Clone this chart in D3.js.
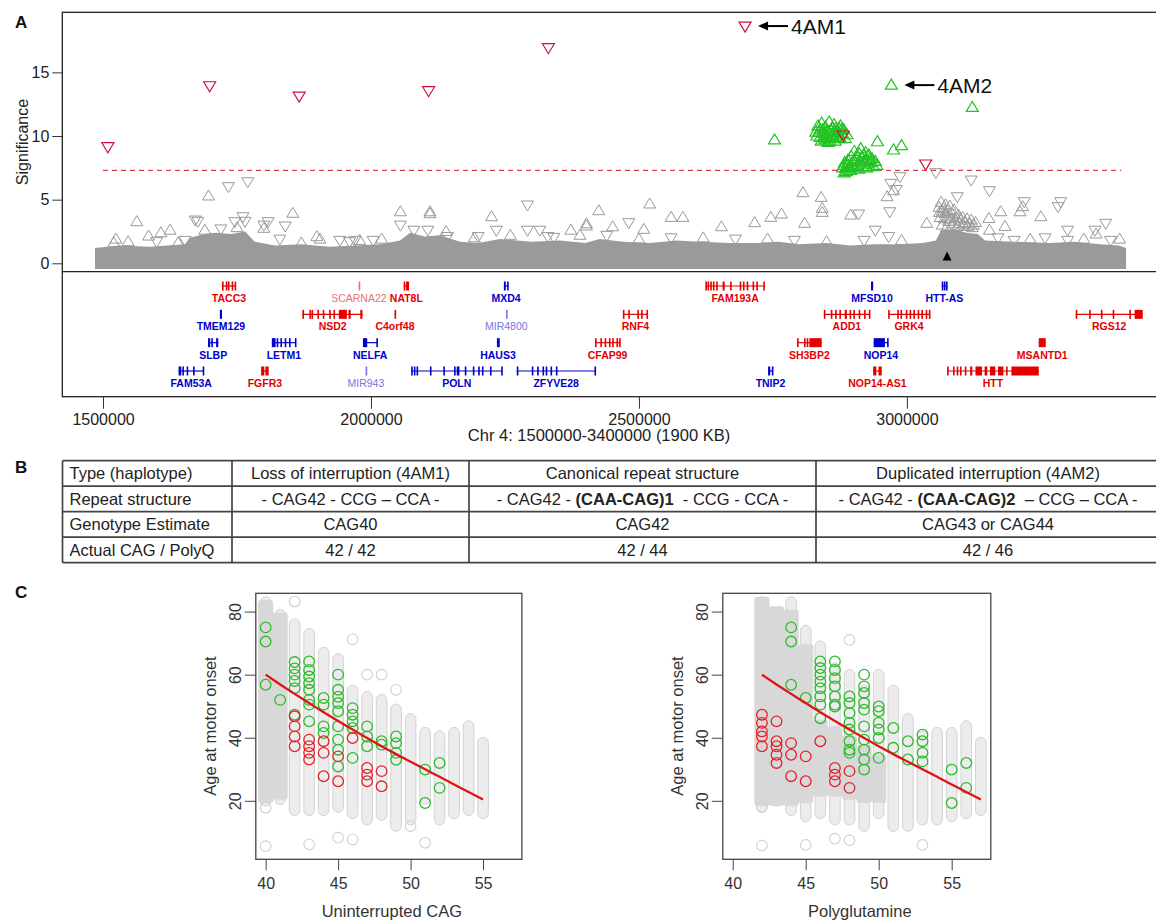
<!DOCTYPE html>
<html>
<head>
<meta charset="utf-8">
<script src="https://cdn.jsdelivr.net/npm/d3@7"></script>
<style>
  body { margin: 0; background: #fff; }
  svg { display: block; }
  text { font-family: "Liberation Sans", Arial, sans-serif; }
</style>
</head>
<body>
<svg id="fig" width="1156" height="920"></svg>
<script>
// ---------- panel A data (positions in kb, significance = -log10 p) ----------
const ticksA = [1500000, 2000000, 2500000, 3000000];
const sigTicks = [0, 5, 10, 15];
const threshold = 7.3;

// top edge of the dense mass of grey markers
const bandTop = [
  [1485, 1.2], [1530, 1.4], [1587, 1.3], [1653, 1.5], [1662, 2.0], [1690, 2.3], [1709, 2.4],
  [1740, 2.3], [1765, 2.5], [1783, 1.7], [1821, 1.4], [1870, 1.5], [1923, 1.3], [1970, 1.4],
  [2017, 1.5], [2054, 1.8], [2073, 2.4], [2100, 2.1], [2129, 2.2], [2166, 1.7], [2200, 1.6],
  [2241, 1.9], [2300, 1.7], [2352, 1.8], [2400, 1.6], [2427, 1.9], [2470, 1.7], [2520, 1.6],
  [2570, 1.8], [2614, 1.7], [2670, 1.6], [2726, 1.6], [2760, 1.7], [2800, 1.5], [2850, 1.6],
  [2894, 1.4], [2940, 1.5], [2987, 1.5], [3030, 1.6], [3054, 1.8], [3064, 2.6], [3090, 2.7],
  [3110, 2.4], [3132, 2.3], [3146, 1.8], [3200, 1.7], [3267, 1.6],
  [3310, 1.7], [3360, 1.5], [3395, 1.4], [3409, 1.2]
];

// [kb, significance, direction]
const greyTri = [
  [1563, 3.27, "u"], [1697, 5.29, "u"], [1734, 6.02, "d"], [1770, 6.41, "d"], [1672, 3.4, "d"],
  [1677, 3.3, "d"], [1625, 2.6, "u"], [1608, 2.4, "u"], [1585, 2.14, "u"], [1761, 3.66, "d"],
  [1746, 3.27, "d"], [1765, 3.3, "d"], [1808, 3.27, "d"], [1800, 3.0, "d"], [1840, 2.93, "d"],
  [1854, 3.93, "u"], [1800, 2.75, "u"], [1899, 2.09, "u"], [2055, 4.05, "u"], [2055, 3.0, "d"],
  [2110, 4.05, "u"], [2110, 3.9, "u"], [2106, 2.6, "d"], [2143, 2.1, "d"], [2193, 2.0, "u"],
  [2225, 3.66, "u"], [2234, 2.6, "d"], [2292, 4.58, "d"], [2292, 2.6, "d"], [2315, 2.6, "d"],
  [2341, 2.04, "d"], [2373, 2.6, "u"], [2402, 2.93, "u"], [2425, 4.13, "u"], [1979, 1.8, "u"],
  [2004, 1.8, "d"], [1524, 1.9, "u"], [1547, 1.7, "u"], [1653, 1.8, "d"], [1905, 1.9, "u"],
  [1942, 1.8, "d"], [1970, 1.8, "d"],
  [2520, 4.66, "u"], [2402, 3.1, "u"], [2481, 3.19, "d"], [2451, 2.87, "u"], [2509, 2.67, "u"],
  [2560, 3.61, "u"], [2582, 3.61, "u"], [2654, 2.87, "u"], [2716, 3.19, "u"], [2746, 3.61, "u"],
  [2766, 3.87, "u"], [2806, 5.55, "u"], [2840, 5.18, "u"], [2842, 4.32, "u"], [2842, 4.0, "u"],
  [2809, 3.14, "u"], [2895, 3.79, "u"], [2910, 3.87, "d"], [2968, 4.05, "d"], [2987, 6.8, "d"],
  [2970, 6.28, "d"], [2963, 5.23, "u"], [2975, 5.7, "u"], [2980, 5.8, "d"], [3054, 7.12, "d"],
  [3037, 3.14, "u"], [3094, 5.23, "d"], [3120, 6.54, "d"], [3154, 5.7, "d"], [3219, 4.84, "d"],
  [3216, 4.45, "u"], [3211, 4.05, "u"], [3175, 4.05, "u"], [3153, 3.52, "u"], [3250, 3.66, "u"],
  [3287, 4.84, "d"], [3282, 4.45, "d"], [3371, 3.14, "d"], [3351, 2.6, "d"], [3300, 2.6, "d"],
  [3353, 2.3, "u"], [2941, 2.6, "d"], [2966, 2.1, "d"], [3200, 1.8, "d"], [3154, 2.6, "u"],
  [3183, 2.9, "u"], [3258, 2.0, "d"], [3397, 1.9, "u"],
  [1520, 1.6, "u"], [1600, 1.7, "d"], [1640, 1.6, "u"], [1690, 2.6, "u"], [1720, 2.7, "d"],
  [1750, 2.8, "u"], [1830, 1.9, "d"], [1870, 1.6, "u"], [1960, 1.7, "d"], [2020, 1.9, "u"],
  [2080, 2.6, "d"], [2140, 2.5, "u"], [2200, 2.1, "d"], [2260, 2.2, "u"], [2330, 2.1, "d"],
  [2390, 2.2, "u"], [2440, 2.2, "d"], [2500, 1.9, "u"], [2560, 2.0, "d"], [2620, 2.0, "u"],
  [2680, 1.9, "d"], [2740, 1.9, "u"], [2790, 1.8, "d"], [2850, 1.7, "u"], [2920, 1.8, "d"],
  [2990, 1.8, "u"], [3170, 2.0, "d"], [3230, 1.9, "u"], [3300, 1.8, "d"], [3330, 1.9, "u"],
  [3380, 1.8, "d"],
  [3060, 4.4, "u"], [3064, 4.8, "u"], [3068, 4.3, "u"], [3072, 4.6, "u"], [3076, 4.1, "u"],
  [3080, 4.5, "u"], [3084, 3.9, "u"], [3088, 4.2, "u"], [3092, 3.6, "u"], [3096, 3.8, "u"],
  [3100, 3.4, "u"], [3104, 3.6, "u"], [3108, 3.2, "u"], [3112, 3.5, "u"], [3116, 3.1, "u"],
  [3120, 3.4, "u"], [3124, 3.0, "u"], [3128, 3.2, "u"], [3062, 3.6, "u"], [3070, 3.5, "u"],
  [3078, 3.3, "u"], [3086, 3.1, "u"], [3094, 2.9, "u"], [3066, 3.0, "u"], [3074, 2.8, "u"],
  [3061, 4.0, "u"], [3066, 4.1, "u"], [3071, 3.9, "u"], [3077, 3.7, "u"], [3082, 3.5, "u"],
  [3090, 3.3, "u"], [3098, 3.1, "u"], [3106, 3.0, "u"], [3114, 2.9, "u"], [3122, 2.8, "u"]
];

const greenTri = [
  [2971, 14.0], [3122, 12.25], [2753, 9.69], [2945, 9.55], [2975, 8.9], [2990, 9.24],
  [2830, 10.3], [2834, 10.8], [2838, 10.5], [2841, 11.0], [2845, 10.2], [2848, 10.7], [2852, 10.4],
  [2855, 11.1], [2858, 10.0], [2861, 10.6], [2864, 10.9], [2867, 10.3], [2870, 10.0], [2873, 10.6],
  [2876, 10.8], [2879, 10.2], [2882, 10.5], [2885, 9.8], [2888, 10.1], [2846, 9.7], [2856, 9.6],
  [2866, 9.6], [2876, 9.8], [2838, 9.9], [2850, 10.0], [2862, 10.1],
  [2832, 10.0], [2836, 10.3], [2843, 10.5], [2847, 10.0], [2851, 9.8], [2854, 10.3], [2859, 10.4],
  [2863, 9.9], [2868, 10.6], [2871, 10.3], [2874, 9.9], [2878, 10.5], [2840, 9.6], [2853, 9.5],
  [2880, 7.5], [2884, 7.9], [2887, 7.2], [2890, 8.1], [2893, 7.6], [2896, 8.4], [2899, 7.9],
  [2902, 8.8], [2905, 8.2], [2908, 7.7], [2911, 8.6], [2914, 9.0], [2917, 8.3], [2920, 7.8],
  [2923, 8.7], [2926, 8.1], [2929, 8.5], [2932, 7.9], [2935, 8.2], [2938, 7.6], [2941, 8.0],
  [2944, 7.7], [2883, 7.1], [2895, 7.3], [2910, 7.4], [2925, 7.5],
  [2882, 7.7], [2886, 7.5], [2889, 7.8], [2892, 7.3], [2898, 7.6], [2901, 8.1], [2904, 7.5],
  [2907, 8.4], [2913, 8.0], [2916, 7.6], [2919, 8.5], [2922, 8.0], [2928, 7.8], [2931, 8.2]
];

const redTri = [
  [1509, 9.16], [1699, 13.95], [1866, 13.14], [2107.5, 13.56], [2331, 16.94],
  [2698, 18.64], [2881, 10.08], [3035, 7.8]
];

const cagMarker = [3075, 0.5];
const callouts = [["4AM1", 2698, 18.64], ["4AM2", 2971, 14.0]];

// genes: [name, row, type, start kb, end kb, exons]
const genes = [
  ["TACC3", 1, "r", 1722, 1748, [[1722, 1724.5], [1729, 1731], [1733, 1735], [1740, 1742], [1745.5, 1748]]],
  ["SCARNA22", 1, "lr", 1977, 1978, [[1977, 1978]]],
  ["NAT8L", 1, "r", 2061, 2071, [[2061, 2064], [2065.5, 2071]]],
  ["MXD4", 1, "b", 2248, 2256, [[2248, 2251.5], [2254, 2256]]],
  ["FAM193A", 1, "r", 2624, 2735, [[2624, 2625.5], [2628, 2629.5], [2633, 2634.5], [2638, 2639.5], [2644, 2645.5], [2656, 2660], [2670, 2671.5], [2688, 2689.5], [2694, 2695.5], [2701, 2702.5], [2712, 2713.5], [2719, 2720.5], [2732, 2735]]],
  ["MFSD10", 1, "b", 2933, 2937, [[2933, 2937]]],
  ["HTT-AS", 1, "b", 3065, 3075, [[3065, 3066.5], [3069, 3070.5], [3073, 3074.6]]],
  ["TMEM129", 2, "b", 1718, 1722, [[1718, 1722]]],
  ["NSD2", 2, "r", 1872, 1985, [[1872, 1873.5], [1885, 1887], [1889, 1891], [1900, 1901.5], [1910, 1911.5], [1922, 1924], [1930, 1932], [1940, 1955], [1958, 1962], [1980, 1984]]],
  ["C4orf48", 2, "r", 2044, 2045.5, [[2044, 2045.5]]],
  ["MIR4800", 2, "lb", 2252, 2253, [[2252, 2253]]],
  ["RNF4", 2, "r", 2470, 2517, [[2470, 2471.5], [2480, 2481.5], [2497, 2498.5], [2504, 2506], [2514, 2517]]],
  ["ADD1", 2, "r", 2845, 2931, [[2845, 2846.5], [2858, 2860], [2866, 2868], [2874, 2876], [2884, 2888], [2893, 2895], [2900, 2902], [2910, 2912], [2920, 2922], [2929, 2931]]],
  ["GRK4", 2, "r", 2965, 3043, [[2965, 2966.5], [2982, 2984], [2988, 2990], [2998, 3000], [3005, 3007], [3012, 3014], [3020, 3022], [3027, 3029], [3035, 3037], [3041, 3043]]],
  ["RGS12", 2, "r", 3315, 3440, [[3315, 3317], [3340, 3342], [3362, 3364], [3384, 3386], [3415, 3418], [3425, 3440]]],
  ["SLBP", 3, "b", 1696, 1715, [[1696, 1700], [1702, 1704], [1711, 1715]]],
  ["LETM1", 3, "b", 1815, 1860, [[1815, 1822], [1824, 1826], [1831, 1833], [1839, 1841], [1847, 1849], [1858, 1860]]],
  ["NELFA", 3, "b", 1985, 2012, [[1985, 1993], [2010, 2012]]],
  ["HAUS3", 3, "b", 2235, 2239, [[2235, 2236.5], [2237.3, 2239]]],
  ["CFAP99", 3, "r", 2418, 2465, [[2418, 2419.5], [2428, 2429.5], [2436, 2438], [2444, 2446], [2450, 2453], [2458, 2460], [2463, 2465]]],
  ["SH3BP2", 3, "r", 2795, 2841, [[2795, 2796.5], [2808, 2810], [2813, 2815], [2818, 2841]]],
  ["NOP14", 3, "b", 2938, 2965, [[2938, 2959], [2963, 2965]]],
  ["MSANTD1", 3, "r", 3246, 3259, [[3246, 3259]]],
  ["FAM53A", 4, "b", 1641, 1688, [[1641, 1646], [1648, 1650], [1656, 1658], [1668, 1670], [1686, 1688]]],
  ["FGFR3", 4, "r", 1795, 1809, [[1795, 1801], [1803, 1809]]],
  ["MIR943", 4, "lb", 1990, 1991, [[1990, 1991]]],
  ["POLN", 4, "b", 2075, 2245, [[2075, 2076.5], [2080, 2081.5], [2085, 2086.5], [2110, 2111.5], [2135, 2136.5], [2155, 2156.5], [2160, 2165], [2175, 2176.5], [2190, 2191.5], [2200, 2201.5], [2207, 2208.5], [2222, 2223.5], [2243, 2245]]],
  ["ZFYVE28", 4, "b", 2272, 2419, [[2272, 2275], [2300, 2301.5], [2310, 2311.5], [2320, 2323], [2326, 2328], [2335, 2336.5], [2345, 2346.5], [2417, 2419]]],
  ["TNIP2", 4, "b", 2741, 2750, [[2741, 2745], [2748, 2750]]],
  ["NOP14-AS1", 4, "r", 2937, 2953, [[2937, 2943], [2947, 2953]]],
  ["HTT", 4, "r", 3075, 3246, [[3075, 3077], [3086, 3088], [3093, 3095], [3099, 3101], [3108, 3110], [3118, 3122], [3128, 3140], [3145, 3150], [3155, 3165], [3170, 3180], [3185, 3188], [3195, 3246]]]
];

// ---------- panel B data ----------
const tableRows = [
  ["Type (haplotype)", "Loss of interruption (4AM1)", "Canonical repeat structure", "Duplicated interruption (4AM2)"],
  ["Repeat structure", "- CAG42 - CCG \u2013 CCA -", "- CAG42 - **(CAA-CAG)1**  - CCG - CCA -", "- CAG42 - **(CAA-CAG)2**  \u2013 CCG \u2013 CCA -"],
  ["Genotype Estimate", "CAG40", "CAG42", "CAG43 or CAG44"],
  ["Actual CAG / PolyQ", "42 / 42", "42 / 44", "42 / 46"]
];

// ---------- panel C data ----------
const xTicksC = [40, 45, 50, 55];
const yTicksC = [20, 40, 60, 80];

// grey stacks: [repeat length, lowest onset, highest onset]
const cagCols = [[40, 20, 83], [41, 20.5, 79], [42, 17, 76], [43, 17, 73], [44, 17, 67], [45, 18, 65], [46, 16, 55], [47, 14, 53], [48, 15.5, 52], [49, 12, 49], [50, 14, 46], [51, 20.6, 41.6], [52, 14, 40.5], [53, 16, 41.6], [54, 17, 43.7], [55, 16, 38.4]];
const cagDense = [[40, 21, 82], [41, 22, 78]];
const cagGreyOut = [[40, 17.8], [40, 5.6], [42, 83.2], [43, 6.2], [45, 8.3], [46, 71.2], [46, 7.7], [47, 60], [48, 60], [49, 55.2], [50, 12], [51, 6.7]];
const cagGreen = [[40, 75], [40, 70.5], [40, 56.8], [41, 52], [42, 64], [42, 62], [42, 60], [42, 58], [42, 55.7], [42, 47.3], [43, 64.2], [43, 61.5], [43, 59.4], [43, 57.3], [43, 55.2], [43, 52], [43, 50.5], [43, 45.2], [44, 52.6], [44, 50.5], [44, 43.6], [44, 41.5], [45, 60], [45, 55.2], [45, 53], [45, 51], [45, 48.4], [45, 43.6], [45, 39.4], [45, 36.2], [45, 30.9], [46, 49.4], [46, 47.3], [46, 45.2], [46, 43.1], [46, 33.6], [47, 43.6], [47, 40.4], [47, 37.3], [48, 38.9], [48, 37.8], [49, 40.4], [49, 38.3], [49, 35.2], [49, 33], [51, 29.9], [51, 19.3], [52, 32], [52, 24.1]];
const cagRed = [[42, 46.8], [42, 43.6], [42, 40.4], [42, 37.3], [43, 39.4], [43, 37.3], [43, 35.2], [43, 33.1], [44, 38.9], [44, 35.2], [44, 27.8], [45, 34.1], [45, 26.2], [46, 39.9], [47, 30.4], [47, 28.3], [47, 26.2], [48, 29.4], [48, 24.6]];
const cagFit = [[40, 60], [41, 56.9], [42, 53.9], [43, 51], [44, 48.1], [45, 45.3], [46, 42.6], [47, 39.9], [48, 37.3], [49, 34.8], [50, 32.4], [51, 30], [52, 27.6], [53, 25.2], [54, 22.8], [55, 20.4]];

const polyCols = [[42, 18, 83], [43, 20, 79.4], [44, 17, 83], [45, 15, 74], [46, 16, 69], [47, 14, 62], [48, 14, 60], [49, 12, 55], [50, 16, 60], [51, 12, 55], [52, 12, 46], [53, 14, 40.5], [54, 14, 41.6], [55, 15, 41.6], [56, 16, 43.7], [57, 17, 38.4]];
const polyDense = [[42, 20, 83], [43, 20, 80], [44, 20, 79], [45, 21, 68], [46, 23, 44], [47, 23, 42], [48, 22, 39], [49, 21, 36], [50, 21, 33]];
const polyGreyOut = [[42, 5.8], [42, 18], [45, 6], [47, 8], [48, 71], [48, 7.5], [53, 6]];
const polyGreen = [[44, 75], [44, 70.5], [44, 56.8], [45, 52.6], [46, 64.2], [46, 62.1], [46, 60], [46, 57.8], [46, 55.7], [46, 53.1], [46, 50.5], [46, 46.2], [47, 64.2], [47, 61.5], [47, 58.9], [47, 56.3], [47, 53.1], [47, 50.5], [47, 49.9], [48, 53.1], [48, 51], [48, 47.8], [48, 44.7], [48, 42.6], [48, 38.9], [48, 36.2], [48, 35.2], [49, 60], [49, 56.3], [49, 54.2], [49, 51], [49, 48.9], [49, 43.6], [49, 39.4], [49, 36.2], [49, 33.1], [49, 29.9], [50, 49.9], [50, 48.4], [50, 44.7], [50, 42.6], [50, 39.9], [50, 33.6], [51, 43.1], [51, 36.8], [52, 38.9], [52, 33.1], [53, 41], [53, 38.9], [53, 35.2], [53, 32.5], [55, 29.9], [55, 19.3], [56, 32], [56, 24.1]];
const polyRed = [[42, 47.3], [42, 44.7], [42, 42], [42, 40.4], [42, 37.3], [43, 45.2], [43, 38.9], [43, 37.3], [43, 34.6], [43, 32], [44, 38.3], [44, 34.6], [44, 27.8], [45, 34.1], [45, 26.2], [46, 38.9], [47, 30.4], [47, 28.3], [47, 26.2], [48, 29.4], [48, 24.1]];
const polyFit = [[42, 60], [43, 56.9], [44, 53.9], [45, 51], [46, 48.1], [47, 45.3], [48, 42.6], [49, 39.9], [50, 37.3], [51, 34.8], [52, 32.4], [53, 30], [54, 27.6], [55, 25.2], [56, 22.8], [57, 20.4]];

// ---------- drawing ----------
const svg = d3.select("#fig");
const defs = svg.append("defs");
const ink = "#222";
const geneColor = d3.scaleOrdinal().domain(["r", "b", "lr", "lb"]).range(["#e50000", "#0000cc", "#e87272", "#7676e2"]);

const xA = d3.scaleLinear().domain([1424000, 3476000]).range([62.3, 1162]);
const yA = d3.scaleLinear().domain([-0.66, 19.72]).range([271.7, 12.3]);
const rowY = d3.scalePoint().domain([1, 2, 3, 4]).range([286, 371]);
const bp = v => v * 1000;

const triPath = (dir, w, h) => dir === "u"
  ? `M${-w / 2},${h * 0.4}L${w / 2},${h * 0.4}L0,${-h * 0.6}Z`
  : `M${-w / 2},${-h * 0.4}L${w / 2},${-h * 0.4}L0,${h * 0.6}Z`;

defs.append("clipPath").attr("id", "clipA")
  .append("rect").attr("x", 62.3).attr("y", 12.3).attr("width", 1100).attr("height", 259.4);

const gA = svg.append("g").attr("clip-path", "url(#clipA)");

// dense grey mass
gA.append("path")
  .datum(bandTop)
  .attr("d", d3.area().x(d => xA(bp(d[0]))).y0(yA(-0.45)).y1(d => yA(d[1])))
  .attr("fill", "#9a9a9a");

gA.selectAll("path.grey").data(greyTri).enter().append("path")
  .attr("class", "grey")
  .attr("transform", d => `translate(${xA(bp(d[0]))},${yA(d[1])})`)
  .attr("d", d => triPath(d[2], 12, 10))
  .attr("fill", "none").attr("stroke", "#999").attr("stroke-width", 1);

gA.append("line")
  .attr("x1", xA(1500000)).attr("x2", xA(3400000))
  .attr("y1", yA(threshold)).attr("y2", yA(threshold))
  .attr("stroke", "#e0404a").attr("stroke-width", 1.1).attr("stroke-dasharray", "5,4");

gA.selectAll("path.green").data(greenTri).enter().append("path")
  .attr("class", "green")
  .attr("transform", d => `translate(${xA(bp(d[0]))},${yA(d[1])})`)
  .attr("d", triPath("u", 12, 10))
  .attr("fill", "none").attr("stroke", "#22c322").attr("stroke-width", 1.2);

gA.selectAll("path.red").data(redTri).enter().append("path")
  .attr("class", "red")
  .attr("transform", d => `translate(${xA(bp(d[0]))},${yA(d[1])})`)
  .attr("d", triPath("d", 12, 10))
  .attr("fill", "none").attr("stroke", "#d0103a").attr("stroke-width", 1.2);

gA.append("path")
  .attr("transform", `translate(${xA(bp(cagMarker[0]))},${yA(cagMarker[1])})`)
  .attr("d", triPath("u", 9, 9)).attr("fill", "#000");

// 4AM1 / 4AM2 call-outs
callouts.forEach(([label, kb, sig]) => {
  const x = xA(bp(kb)), y = yA(sig);
  svg.append("line").attr("x1", x + 20).attr("x2", x + 43).attr("y1", y).attr("y2", y)
    .attr("stroke", "#000").attr("stroke-width", 2);
  svg.append("path").attr("d", `M${x + 13},${y}L${x + 23},${y - 4.5}L${x + 23},${y + 4.5}Z`).attr("fill", "#000");
  svg.append("text").attr("x", x + 46).attr("y", y + 7.5)
    .attr("font-size", 21).attr("fill", "#111").text(label);
});

// frame of panel A and separator
svg.append("rect").attr("x", 62.3).attr("y", 12.3).attr("width", 1100).attr("height", 384.4)
  .attr("fill", "none").attr("stroke", ink).attr("stroke-width", 1.3);
svg.append("line").attr("x1", 62.3).attr("x2", 1162).attr("y1", 271.7).attr("y2", 271.7)
  .attr("stroke", ink).attr("stroke-width", 1.3);

const yAxisA = svg.append("g").attr("transform", "translate(62.3,0)")
  .call(d3.axisLeft(yA).tickValues(sigTicks).tickSize(10).tickPadding(3));
yAxisA.select(".domain").remove();
yAxisA.selectAll("line").attr("stroke", "#333");
yAxisA.selectAll("text").attr("font-size", 16).attr("fill", ink).attr("font-family", null);

svg.append("text").attr("transform", "translate(28,142) rotate(-90)")
  .attr("text-anchor", "middle").attr("font-size", 16).attr("fill", ink).text("Significance");

const xAxisA = svg.append("g").attr("transform", "translate(0,396.7)")
  .call(d3.axisBottom(xA).tickValues(ticksA).tickSize(12).tickPadding(5).tickFormat(d3.format("d")));
xAxisA.select(".domain").remove();
xAxisA.selectAll("line").attr("stroke", "#333");
xAxisA.selectAll("text").attr("font-size", 16).attr("fill", ink).attr("font-family", null);

svg.append("text").attr("x", 599).attr("y", 441).attr("text-anchor", "middle")
  .attr("font-size", 16.5).attr("fill", ink).text("Chr 4: 1500000-3400000 (1900 KB)");

// gene track
genes.forEach(([name, row, type, start, end, exons]) => {
  const y = rowY(row), col = geneColor(type);
  const g = svg.append("g");
  g.append("line").attr("x1", xA(bp(start))).attr("x2", xA(bp(end)))
    .attr("y1", y).attr("y2", y).attr("stroke", col).attr("stroke-width", 1.2);
  g.selectAll("rect").data(exons).enter().append("rect")
    .attr("x", d => xA(bp(d[0])))
    .attr("width", d => Math.max(1.6, xA(bp(d[1])) - xA(bp(d[0]))))
    .attr("y", y - 4.5).attr("height", 9)
    .attr("fill", col);
  g.append("text").attr("x", xA(bp((start + end) / 2))).attr("y", y + 16)
    .attr("text-anchor", "middle")
    .attr("font-family", "'Liberation Sans Narrow','Arial Narrow','DejaVu Sans Condensed',sans-serif")
    .attr("font-size", 10.5)
    .attr("font-weight", type.startsWith("l") ? "normal" : "bold")
    .attr("fill", col).text(name);
});

// panel labels
[["A", 28], ["B", 473], ["C", 598]].forEach(([t, y]) => {
  svg.append("text").attr("x", 15).attr("y", y).attr("font-size", 17)
    .attr("font-weight", "bold").attr("fill", "#111").text(t);
});

// ---------- panel B table ----------
const colEdges = [62.5, 232, 469, 816, 1160];
const rowBand = d3.scaleBand().domain(d3.range(tableRows.length)).range([460.7, 562.7]);
const gB = svg.append("g");
rowBand.domain().concat([tableRows.length]).forEach(i => {
  const y = i < tableRows.length ? rowBand(i) : rowBand.range()[1];
  gB.append("line").attr("x1", colEdges[0]).attr("x2", colEdges[4]).attr("y1", y).attr("y2", y)
    .attr("stroke", "#444").attr("stroke-width", 1.7);
});
colEdges.forEach(x => {
  gB.append("line").attr("x1", x).attr("x2", x).attr("y1", 460.7).attr("y2", 562.7)
    .attr("stroke", "#444").attr("stroke-width", 1.7);
});
tableRows.forEach((row, i) => {
  row.forEach((cell, j) => {
    const t = gB.append("text")
      .attr("x", j === 0 ? colEdges[0] + 7 : (colEdges[j] + colEdges[j + 1]) / 2)
      .attr("y", rowBand(i) + rowBand.bandwidth() / 2 + 6)
      .attr("text-anchor", j === 0 ? "start" : "middle")
      .attr("font-size", 16.5).attr("fill", "#222")
      .style("white-space", "pre");
    cell.split("**").forEach((part, k) => {
      t.append("tspan").attr("font-weight", k % 2 ? "bold" : "normal").text(part);
    });
  });
});

// ---------- panel C ----------
const yC = d3.scaleLinear().domain([1.45, 85.8]).range([859.3, 593.3]);
const rC = 5.3;

function drawOnset(id, x0, x1, cols, dense, greyOut, green, red, fit, title) {
  const x = d3.scaleLinear().domain([39.32, 57.68]).range([x0, x1]);
  const unit = x(1) - x(0);
  defs.append("clipPath").attr("id", id)
    .append("rect").attr("x", x0).attr("y", 593.3).attr("width", x1 - x0).attr("height", 266);
  const g = svg.append("g");
  const inner = g.append("g").attr("clip-path", `url(#${id})`);

  inner.selectAll("rect.col").data(cols).enter().append("rect")
    .attr("class", "col")
    .attr("x", d => x(d[0]) - rC).attr("width", 2 * rC)
    .attr("y", d => yC(d[2]) - rC).attr("height", d => yC(d[1]) - yC(d[2]) + 2 * rC)
    .attr("rx", rC).attr("fill", "#ececec").attr("stroke", "#d3d3d3").attr("stroke-width", 1);

  inner.selectAll("rect.dense").data(dense).enter().append("rect")
    .attr("class", "dense")
    .attr("x", d => x(d[0]) - unit * 0.52).attr("width", unit * 1.04)
    .attr("y", d => yC(d[2]) - rC).attr("height", d => yC(d[1]) - yC(d[2]) + 2 * rC)
    .attr("rx", 3).attr("fill", "#d8d8d8");

  inner.selectAll("circle.out").data(greyOut).enter().append("circle")
    .attr("class", "out")
    .attr("cx", d => x(d[0])).attr("cy", d => yC(d[1])).attr("r", rC)
    .attr("fill", "none").attr("stroke", "#d0d0d0").attr("stroke-width", 1.1);

  inner.selectAll("circle.grn").data(green).enter().append("circle")
    .attr("class", "grn")
    .attr("cx", d => x(d[0])).attr("cy", d => yC(d[1])).attr("r", rC)
    .attr("fill", "none").attr("stroke", "#2dbb2d").attr("stroke-width", 1.3);

  inner.selectAll("circle.red").data(red).enter().append("circle")
    .attr("class", "red")
    .attr("cx", d => x(d[0])).attr("cy", d => yC(d[1])).attr("r", rC)
    .attr("fill", "none").attr("stroke", "#e3232b").attr("stroke-width", 1.3);

  inner.append("path").datum(fit)
    .attr("d", d3.line().x(d => x(d[0])).y(d => yC(d[1])).curve(d3.curveMonotoneX))
    .attr("fill", "none").attr("stroke", "#dd1515").attr("stroke-width", 2.3);

  g.append("rect").attr("x", x0).attr("y", 593.3).attr("width", x1 - x0).attr("height", 266)
    .attr("fill", "none").attr("stroke", "#444").attr("stroke-width", 1.3);

  const ax = g.append("g").attr("transform", "translate(0,859.3)")
    .call(d3.axisBottom(x).tickValues(xTicksC).tickSize(11).tickPadding(7));
  ax.select(".domain").remove();
  ax.selectAll("line").attr("stroke", "#444");
  ax.selectAll("text").attr("font-size", 16).attr("fill", "#333").attr("font-family", null);

  const ay = g.append("g").attr("transform", `translate(${x0},0)`)
    .call(d3.axisLeft(yC).tickValues(yTicksC).tickSize(11));
  ay.select(".domain").remove();
  ay.selectAll("line").attr("stroke", "#444");
  ay.selectAll("text").attr("font-size", 16).attr("fill", "#333").attr("font-family", null)
    .attr("transform", "rotate(-90)").attr("x", 0).attr("y", -15).attr("dy", null)
    .attr("text-anchor", "middle");

  g.append("text").attr("x", (x0 + x1) / 2 + 3).attr("y", 917).attr("text-anchor", "middle")
    .attr("font-size", 16.5).attr("fill", "#333").text(title);
  g.append("text").attr("transform", `translate(${x0 - 40},726) rotate(-90)`)
    .attr("text-anchor", "middle").attr("font-size", 16.5).attr("fill", "#333").text("Age at motor onset");
}

drawOnset("clipC1", 255.8, 521.9, cagCols, cagDense, cagGreyOut, cagGreen, cagRed, cagFit, "Uninterrupted CAG");
drawOnset("clipC2", 722.8, 990.8, polyCols, polyDense, polyGreyOut, polyGreen, polyRed, polyFit, "Polyglutamine");
</script>
</body>
</html>
